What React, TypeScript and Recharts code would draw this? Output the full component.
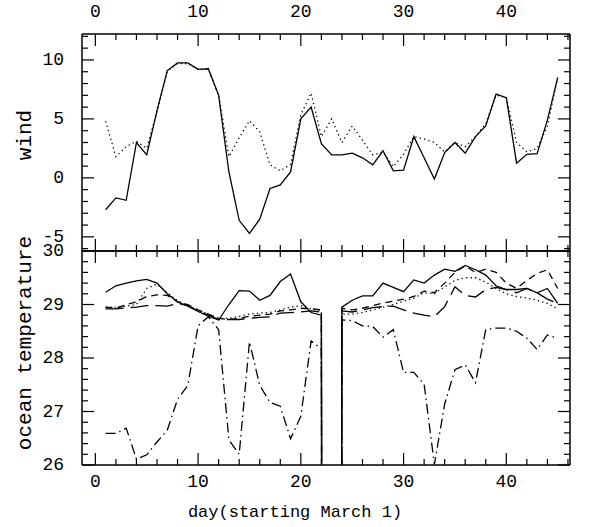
import { Line, LineChart, XAxis, YAxis } from "recharts";

// days since March 1; day 23 has no temperature data
const DAYS = [
  1, 2, 3, 4, 5, 6, 7, 8, 9, 10, 11, 12, 13, 14, 15, 16, 17, 18, 19, 20, 21, 22, 23,
  24, 25, 26, 27, 28, 29, 30, 31, 32, 33, 34, 35, 36, 37, 38, 39, 40, 41, 42, 43, 44, 45,
];

const WIND_SOLID = [
  -2.7, -1.7, -1.9, 3.0, 1.95, 5.7, 9.1, 9.75, 9.75, 9.2, 9.25, 7.0, 0.5, -3.6, -4.7,
  -3.5, -0.9, -0.6, 0.5, 5.0, 6.0, 2.9, 1.95, 1.95, 2.1, 1.7, 1.1, 2.3, 0.6, 0.65, 3.5,
  1.7, -0.1, 2.15, 3.0, 2.1, 3.5, 4.4, 7.1, 6.8, 1.25, 2.0, 2.05, 4.9, 8.5,
];
const WIND_DOTTED = [
  4.8, 1.8, 2.65, 3.1, 2.5, 5.6, 9.05, 9.7, 9.7, 9.2, 9.2, 7.0, 1.8, 3.4, 4.85, 3.9,
  1.1, 0.6, 1.15, 5.35, 7.2, 3.5, 5.0, 3.0, 4.4, 3.2, 1.95, 2.2, 0.95, 2.0, 3.5, 3.3,
  3.0, 2.2, 3.0, 2.65, 3.5, 4.6, 7.0, 6.8, 3.0, 2.2, 2.5, 4.4, 8.5,
];

// missing-data flag, drawn off the bottom of the panel as in the original
const M = -99;

const SST_SOLID = [
  29.23, 29.35, 29.4, 29.44, 29.47, 29.4, 29.2, 29.05, 28.97, 28.87, 28.78, 28.71, 29.0,
  29.26, 29.25, 29.08, 29.17, 29.43, 29.57, 29.05, 28.85, 28.8, M, 28.95, 29.08, 29.16,
  29.16, 29.4, 29.32, 29.24, 29.46, 29.4, 29.55, 29.66, 29.62, 29.73, 29.65, 29.55,
  29.35, 29.28, 29.28, 29.3, 29.22, 29.3, 29.02,
];
const SST_DOTTED = [
  28.95, 28.95, 28.97, 29.0, 29.3, 29.38, 29.22, 29.07, 28.98, 28.9, 28.82, 28.74,
  28.74, 28.78, 28.82, 28.84, 28.85, 28.9, 28.95, 28.98, 28.92, 28.88, M, 28.82, 28.82,
  28.85, 28.9, 28.95, 29.0, 29.06, 29.12, 29.22, 29.2, 29.33, 29.45, 29.5, 29.5, 29.42,
  29.3, 29.2, 29.15, 29.12, 29.08, 29.02, 28.92,
];
const SST_DASHED = [
  28.95, 28.93, 29.0, 29.05, 29.15, 29.18, 29.17, 29.05, 29.0, 28.9, 28.82, 28.74,
  28.72, 28.74, 28.78, 28.8, 28.82, 28.88, 28.9, 28.93, 28.92, 28.9, M, 28.93, 28.9,
  28.93, 28.98, 29.03, 29.06, 29.1, 29.15, 29.25, 29.22, 29.4, 29.6, 29.72, 29.6, 29.66,
  29.6, 29.4, 29.3, 29.45, 29.58, 29.65, 29.3,
];
const SST_LONGDASH = [
  28.92, 28.92, 28.94, 28.95, 28.98, 28.98, 28.97, 29.02, 28.98, 28.88, 28.8, 28.72,
  28.72, 28.72, 28.74, 28.76, 28.77, 28.84, 28.85, 28.86, 28.88, 28.86, M, 28.88, 28.86,
  28.9, 28.94, 28.96, 28.97, 28.9, 28.84, 28.8, 28.77, 28.96, 29.33, 29.17, 29.14,
  29.28, 29.32, 29.28, 29.22, 29.3, 29.22, 29.1, 29.02,
];
const SST_DASHDOT = [
  26.59, 26.59, 26.69, 26.11, 26.19, 26.43, 26.65, 27.23, 27.49, 28.6, 28.77, 28.53,
  26.47, 26.2, 28.3, 27.49, 27.17, 27.1, 26.49, 26.91, 28.32, 28.17, M, 28.71, 28.7,
  28.6, 28.59, 28.39, 28.53, 27.73, 27.73, 27.51, 26.01, 27.14, 27.78, 27.87, 27.54,
  28.53, 28.56, 28.56, 28.5, 28.37, 28.16, 28.43, 28.37,
];

const X_TICKS = [0, 2, 4, 6, 8, 10, 12, 14, 16, 18, 20, 22, 24, 26, 28, 30, 32, 34, 36, 38, 40, 42, 44, 46];
const WIND_TICKS = [-6, -5, -4, -3, -2, -1, 0, 1, 2, 3, 4, 5, 6, 7, 8, 9, 10, 11, 12];
const SST_TICKS = [
  26, 26.2, 26.4, 26.6, 26.8, 27, 27.2, 27.4, 27.6, 27.8, 28, 28.2, 28.4, 28.6, 28.8,
  29, 29.2, 29.4, 29.6, 29.8, 30,
];

const windData = DAYS.map((d, i) => ({ day: d, a: WIND_SOLID[i], b: WIND_DOTTED[i] }));
const sstData = DAYS.map((d, i) => ({
  day: d,
  s: SST_SOLID[i],
  dt: SST_DOTTED[i],
  da: SST_DASHED[i],
  ld: SST_LONGDASH[i],
  dd: SST_DASHDOT[i],
}));

const W = 607;
const H = 527;
const LEFT = 82;
const RIGHT = 570;
const TOP = 34;
const MID = 251;
const BOTTOM = 465;
const X_DOMAIN = [-1.3, 46.2];
const FONT = "'Liberation Mono', monospace";

const frame = { stroke: "#000", strokeWidth: 1.5 };
const txt = { fontFamily: FONT, fontSize: 18, fill: "#000" };
const title = { fontFamily: FONT, fontSize: 21, fill: "#000" };

type Side = "top" | "bottom" | "left" | "right";

function tickMaker(
  side: Side,
  isMajor: (v: number) => boolean,
  label?: (v: number) => boolean,
) {
  return (props: any) => {
    const v = props.payload.value as number;
    const len = isMajor(v) ? 12 : 6;
    if (side === "top" || side === "bottom") {
      const x = props.x;
      const edge = side === "top" ? props.y + 8 : props.y - 8;
      const dir = side === "top" ? 1 : -1;
      return (
        <g>
          <line x1={x} x2={x} y1={edge} y2={edge + dir * len} stroke="#000" strokeWidth={1.2} />
          {label && label(v) ? (
            <text
              x={x}
              y={side === "top" ? edge - 22 : edge + 17}
              textAnchor="middle"
              dominantBaseline="central"
              {...txt}
            >
              {v}
            </text>
          ) : null}
        </g>
      );
    }
    const y = props.y;
    const edge = side === "left" ? LEFT : RIGHT;
    const dir = side === "left" ? 1 : -1;
    return (
      <g>
        <line x1={edge} x2={edge + dir * len} y1={y} y2={y} stroke="#000" strokeWidth={1.2} />
        {label && label(v) ? (
          <text x={edge - 18} y={y} textAnchor="end" dominantBaseline="central" {...txt}>
            {v}
          </text>
        ) : null}
      </g>
    );
  };
}

const tens = (v: number) => v % 10 === 0;
const fives = (v: number) => v % 5 === 0;
const whole = (v: number) => Math.abs(v - Math.round(v)) < 1e-6;

const line = { type: "linear" as const, stroke: "#000", strokeWidth: 1.3, dot: false, isAnimationActive: false };

export default function App() {
  return (
    <div style={{ position: "absolute", left: 0, top: 0, width: W, height: H, background: "#fff" }}>
      <div style={{ position: "absolute", left: 0, top: 0 }}>
        <LineChart
          width={W}
          height={H}
          data={windData}
          margin={{ top: 0, left: 0, right: 0, bottom: H - MID - 30 }}
        >
          <XAxis
            dataKey="day"
            type="number"
            orientation="top"
            height={TOP}
            domain={X_DOMAIN}
            allowDataOverflow
            ticks={X_TICKS}
            interval={0}
            axisLine={frame}
            tickLine={false}
            tick={tickMaker("top", tens, tens)}
          />
          <XAxis
            xAxisId="b"
            dataKey="day"
            type="number"
            orientation="bottom"
            height={30}
            domain={X_DOMAIN}
            allowDataOverflow
            ticks={X_TICKS}
            interval={0}
            axisLine={frame}
            tickLine={false}
            tick={tickMaker("bottom", tens)}
          />
          <YAxis
            type="number"
            width={LEFT}
            domain={[-6.2, 12.2]}
            allowDataOverflow
            ticks={WIND_TICKS}
            interval={0}
            axisLine={frame}
            tickLine={false}
            tick={tickMaker("left", fives, fives)}
          />
          <YAxis
            yAxisId="r"
            orientation="right"
            type="number"
            width={W - RIGHT}
            domain={[-6.2, 12.2]}
            allowDataOverflow
            ticks={WIND_TICKS}
            interval={0}
            axisLine={frame}
            tickLine={false}
            tick={tickMaker("right", fives)}
          />
          <Line {...line} dataKey="a" />
          <Line {...line} dataKey="b" strokeDasharray="1.3 3.2" />
        </LineChart>
      </div>
      <div style={{ position: "absolute", left: 0, top: 0 }}>
        <LineChart
          width={W}
          height={H}
          data={sstData}
          margin={{ top: MID - 30, left: 0, right: 0, bottom: H - BOTTOM - 30 }}
        >
          <XAxis
            xAxisId="t"
            dataKey="day"
            type="number"
            orientation="top"
            height={30}
            domain={X_DOMAIN}
            allowDataOverflow
            ticks={X_TICKS}
            interval={0}
            axisLine={frame}
            tickLine={false}
            tick={tickMaker("top", tens)}
          />
          <XAxis
            dataKey="day"
            type="number"
            orientation="bottom"
            height={30}
            domain={X_DOMAIN}
            allowDataOverflow
            ticks={X_TICKS}
            interval={0}
            axisLine={frame}
            tickLine={false}
            tick={tickMaker("bottom", tens, tens)}
          />
          <YAxis
            type="number"
            width={LEFT}
            domain={[26, 30]}
            allowDataOverflow
            ticks={SST_TICKS}
            interval={0}
            axisLine={frame}
            tickLine={false}
            tick={tickMaker("left", whole, whole)}
          />
          <YAxis
            yAxisId="r"
            orientation="right"
            type="number"
            width={W - RIGHT}
            domain={[26, 30]}
            allowDataOverflow
            ticks={SST_TICKS}
            interval={0}
            axisLine={frame}
            tickLine={false}
            tick={tickMaker("right", whole)}
          />
          <Line {...line} dataKey="s" />
          <Line {...line} dataKey="dt" strokeDasharray="1.3 3.2" />
          <Line {...line} dataKey="da" strokeDasharray="7 5" />
          <Line {...line} dataKey="ld" strokeDasharray="18 7" />
          <Line {...line} dataKey="dd" strokeDasharray="10 4 1.5 4" />
        </LineChart>
      </div>
      <svg
        width={W}
        height={H}
        style={{ position: "absolute", left: 0, top: 0, pointerEvents: "none" }}
      >
        <text x={25} y={135} transform="rotate(-90 25 135)" textAnchor="middle" dominantBaseline="central" {...title}>
          wind
        </text>
        <text x={25} y={343} transform="rotate(-90 25 343)" textAnchor="middle" dominantBaseline="central" {...title}>
          ocean temperature
        </text>
        <text x={295} y={512} textAnchor="middle" dominantBaseline="central" {...txt} fontSize={17}>
          day(starting March 1)
        </text>
      </svg>
    </div>
  );
}
